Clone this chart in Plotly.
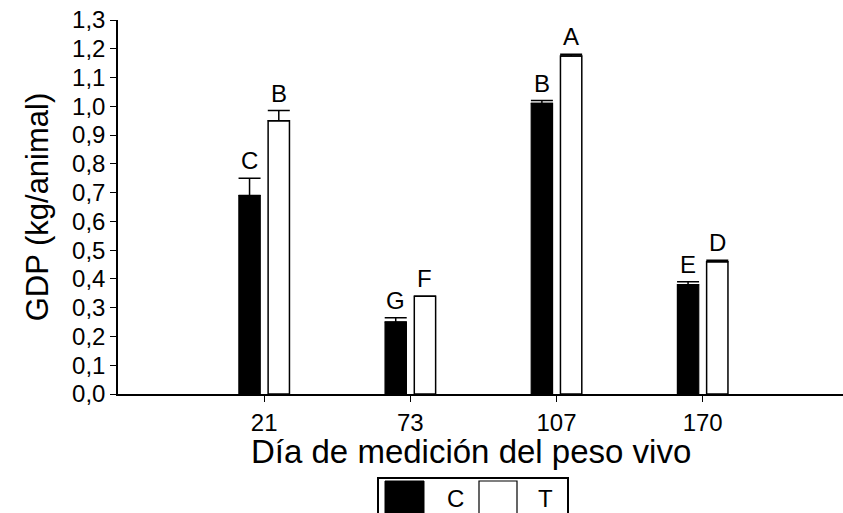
import plotly.graph_objects as go

# Daily weight gain (kg/animal) by measurement day, control vs treatment
dias = ["21", "73", "107", "170"]
gdp_c = [0.69, 0.25, 1.01, 0.38]
err_c = [0.06, 0.015, 0.01, 0.01]
gdp_t = [0.95, 0.34, 1.175, 0.46]
err_t = [0.035, 0.0, 0.006, 0.005]
letras_c = ["C", "G", "B", "E"]
letras_t = ["B", "F", "A", "D"]
y_ticks = [round(0.1 * i, 1) for i in range(14)]

FONT = "Arial, Liberation Sans, sans-serif"
pos = list(range(len(dias)))

fig = go.Figure()
fig.add_trace(go.Bar(
    name="C", x=pos, y=gdp_c,
    marker=dict(color="black", line=dict(color="black", width=1.2)),
    error_y=dict(type="data", symmetric=False, array=err_c,
                 arrayminus=[0] * len(err_c), color="black",
                 thickness=1.5, width=11),
))
fig.add_trace(go.Bar(
    name="T", x=pos, y=gdp_t,
    marker=dict(color="white", line=dict(color="black", width=1.5)),
    error_y=dict(type="data", symmetric=False, array=err_t,
                 arrayminus=[0] * len(err_t), color="black",
                 thickness=1.5, width=11),
))

# significance letters above each bar
offset = 0.1
for i in pos:
    for dx, val, err, txt in ((-offset, gdp_c[i], err_c[i], letras_c[i]),
                              (offset, gdp_t[i], err_t[i], letras_t[i])):
        fig.add_annotation(x=i + dx, y=val + err, text=txt, showarrow=False,
                           xref="x", yref="y", yanchor="bottom", yshift=2,
                           font=dict(family=FONT, size=24, color="black"))

# pixel -> paper helpers for items placed outside the plot area
def px_x(p):
    return (p - 118) / 725

def px_y(p):
    return (394 - p) / 374

# x-axis title
fig.add_annotation(x=px_x(471), y=px_y(451), xref="paper", yref="paper",
                   text="Día de medición del peso vivo", showarrow=False,
                   xanchor="center", yanchor="middle",
                   font=dict(family=FONT, size=33, color="black"))

# legend box drawn below the axis title
fig.add_shape(type="rect", xref="paper", yref="paper",
              x0=px_x(378), x1=px_x(568), y0=px_y(530), y1=px_y(478),
              line=dict(color="black", width=2), fillcolor="white", layer="above")
fig.add_shape(type="rect", xref="paper", yref="paper",
              x0=px_x(385), x1=px_x(424), y0=px_y(530), y1=px_y(481),
              line=dict(color="black", width=1), fillcolor="black", layer="above")
fig.add_shape(type="rect", xref="paper", yref="paper",
              x0=px_x(479), x1=px_x(517), y0=px_y(530), y1=px_y(481),
              line=dict(color="black", width=1.2), fillcolor="white", layer="above")
for xc, name in ((455, "C"), (545, "T")):
    fig.add_annotation(x=px_x(xc), y=px_y(498), xref="paper", yref="paper",
                       text=name, showarrow=False, xanchor="center", yanchor="middle",
                       font=dict(family=FONT, size=24, color="black"))

fig.update_layout(
    width=843, height=513,
    margin=dict(l=118, r=0, t=20, b=119),
    paper_bgcolor="white", plot_bgcolor="white",
    barmode="group", bargap=0.6, bargroupgap=0.27,
    separators=", ",
    showlegend=False,
    font=dict(family=FONT, color="black"),
)
fig.update_xaxes(
    range=[-1, 3.96], tickvals=pos, ticktext=dias,
    showline=True, linecolor="black", linewidth=1.5,
    ticks="outside", ticklen=6, tickwidth=1.2, tickcolor="black",
    showgrid=False, zeroline=False,
    tickfont=dict(family=FONT, size=24),
)
fig.update_yaxes(
    range=[0, 1.3], tickvals=y_ticks, tickformat=".1f",
    showline=True, linecolor="black", linewidth=1.5,
    ticks="outside", ticklen=6, tickwidth=1.2, tickcolor="black",
    showgrid=False, zeroline=False,
    tickfont=dict(family=FONT, size=24),
    title=dict(text="GDP (kg/animal)", standoff=14,
               font=dict(family=FONT, size=31)),
)

fig.write_html("out.html")
